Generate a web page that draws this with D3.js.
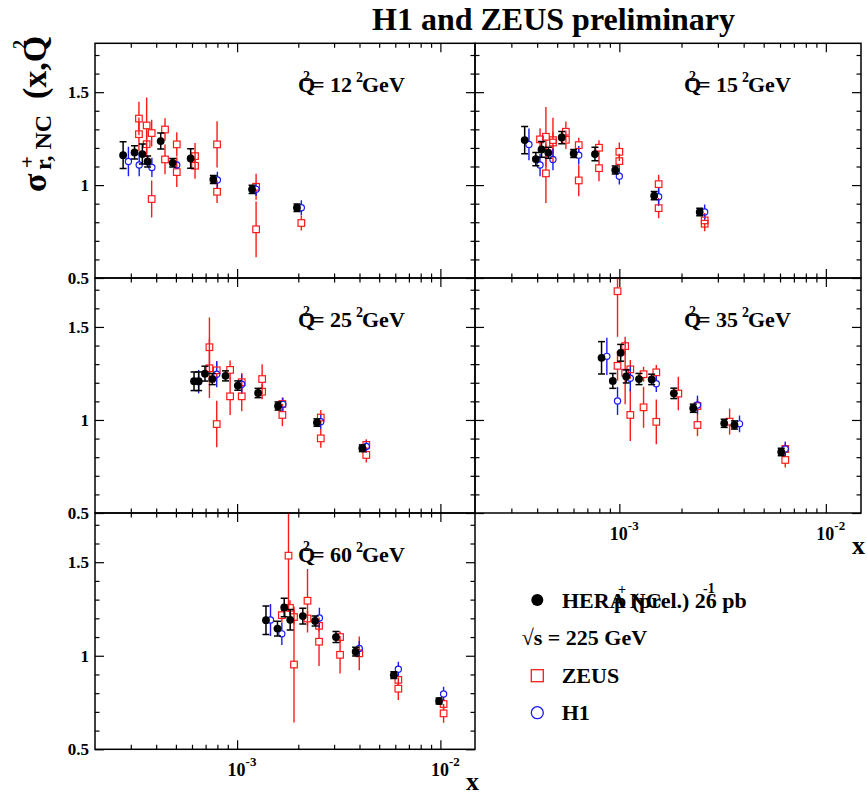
<!DOCTYPE html>
<html><head><meta charset="utf-8">
<script src="https://cdn.jsdelivr.net/npm/d3@7"></script>
<style>
body{margin:0;background:#fff;}
svg{display:block;}
text{font-family:"Liberation Serif","Times New Roman",serif;font-weight:bold;fill:#000;}
</style>
</head><body>
<svg id="c" width="867" height="797"></svg>
<script>
// ---------------- DATA ----------------
const q2Labels = ["12", "15", "25", "35", "60"];
const yMajorTicks = [0.5, 1, 1.5];
const yTickLabels = ["0.5", "1", "1.5"];
const xMajorTicks = [1e-3, 1e-2];
const xTickExponents = ["-3", "-2"];

// [x, sigma_r, error]
const hera12 = [[2.75e-4,1.161,0.072],[3.13e-4,1.176,0.036],[3.42e-4,1.167,0.054],[3.63e-4,1.127,0.029],[4.21e-4,1.237,0.043],[4.82e-4,1.120,0.023],[5.91e-4,1.143,0.052],[7.64e-4,1.030,0.022],[1.185e-3,0.977,0.022],[1.97e-3,0.878,0.020]];
const h1_12 = [[2.92e-4,1.127,0.079],[3.30e-4,1.108,0.061],[3.81e-4,1.095,0.052],[5.05e-4,1.108,0.020],[8.0e-4,1.027,0.045],[1.24e-3,0.977,0.036],[2.07e-3,0.878,0.040]];
const zeus12 = [[3.29e-4,1.358,0.09],[3.29e-4,1.274,0.09],[3.59e-4,1.321,0.15],[3.59e-4,1.220,0.07],[3.80e-4,1.280,0.072],[3.80e-4,0.925,0.10],[4.42e-4,1.299,0.06],[4.42e-4,1.138,0.08],[5.05e-4,1.219,0.065],[5.05e-4,1.070,0.08],[6.21e-4,1.156,0.07],[6.21e-4,1.104,0.07],[7.97e-4,1.219,0.125],[7.97e-4,0.964,0.06],[1.24e-3,0.991,0.07],[1.24e-3,0.762,0.15],[2.07e-3,0.796,0.04]];

const hera15 = [[3.48e-4,1.242,0.073],[3.94e-4,1.140,0.036],[4.20e-4,1.192,0.042],[4.53e-4,1.174,0.030],[5.26e-4,1.256,0.033],[6.01e-4,1.170,0.022],[7.62e-4,1.167,0.036],[9.55e-4,1.081,0.022],[1.475e-3,0.943,0.022],[2.45e-3,0.855,0.020]];
const h1_15 = [[3.65e-4,1.219,0.085],[4.13e-4,1.108,0.060],[4.77e-4,1.138,0.058],[6.36e-4,1.161,0.050],[1.0e-3,1.048,0.045],[1.55e-3,0.937,0.050],[2.59e-3,0.855,0.040]];
const zeus15 = [[4.13e-4,1.246,0.06],[4.41e-4,1.260,0.16],[4.41e-4,1.063,0.16],[4.77e-4,1.242,0.12],[4.77e-4,1.229,0.06],[5.51e-4,1.287,0.055],[5.51e-4,1.244,0.05],[6.36e-4,1.215,0.04],[6.36e-4,1.025,0.085],[7.97e-4,1.201,0.04],[7.97e-4,1.091,0.07],[1.0e-3,1.179,0.05],[1.0e-3,1.129,0.04],[1.55e-3,1.005,0.05],[1.55e-3,0.876,0.055],[2.59e-3,0.810,0.04],[2.59e-3,0.792,0.04]];

const hera25 = [[6.14e-4,1.208,0.050],[6.47e-4,1.208,0.050],[6.95e-4,1.249,0.040],[7.55e-4,1.220,0.030],[8.77e-4,1.237,0.027],[1.008e-3,1.185,0.025],[1.268e-3,1.145,0.025],[1.59e-3,1.075,0.022],[2.47e-3,0.986,0.020],[4.13e-3,0.848,0.018]];
const h1_25 = [[6.47e-4,1.206,0.063],[7.94e-4,1.246,0.070],[1.054e-3,1.192,0.052],[1.68e-3,1.084,0.036],[2.58e-3,0.991,0.040],[4.32e-3,0.857,0.033]];
const zeus25 = [[7.31e-4,1.391,0.16],[7.31e-4,1.278,0.16],[7.94e-4,1.267,0.05],[7.94e-4,0.978,0.125],[9.24e-4,1.269,0.05],[9.24e-4,1.127,0.10],[1.054e-3,1.203,0.05],[1.054e-3,1.127,0.08],[1.328e-3,1.220,0.08],[1.328e-3,1.152,0.04],[1.67e-3,1.086,0.035],[1.67e-3,1.027,0.06],[2.58e-3,1.013,0.04],[2.58e-3,0.901,0.05],[4.32e-3,0.866,0.03],[4.32e-3,0.812,0.04]];

const hera35 = [[8.2e-4,1.334,0.087],[9.3e-4,1.210,0.040],[1.015e-3,1.361,0.045],[1.08e-3,1.234,0.035],[1.245e-3,1.220,0.030],[1.434e-3,1.218,0.028],[1.836e-3,1.143,0.028],[2.28e-3,1.063,0.022],[3.22e-3,0.982,0.022],[3.61e-3,0.973,0.022],[6.08e-3,0.828,0.020]];
const h1_35 = [[8.7e-4,1.342,0.10],[9.8e-4,1.102,0.075],[1.13e-3,1.224,0.07],[1.51e-3,1.195,0.045],[2.39e-3,1.081,0.05],[3.82e-3,0.979,0.045],[6.36e-3,0.844,0.04]];
const zeus35 = [[9.8e-4,1.692,0.245],[9.8e-4,1.291,0.08],[1.067e-3,1.397,0.05],[1.067e-3,1.254,0.17],[1.13e-3,1.272,0.05],[1.13e-3,1.027,0.14],[1.31e-3,1.246,0.04],[1.31e-3,1.068,0.11],[1.51e-3,1.256,0.04],[1.51e-3,0.990,0.12],[1.93e-3,1.142,0.09],[2.39e-3,1.075,0.04],[2.39e-3,0.973,0.06],[3.42e-3,0.991,0.07],[6.36e-3,0.844,0.03],[6.36e-3,0.785,0.04]];

const hera60 = [[1.387e-3,1.190,0.076],[1.58e-3,1.145,0.040],[1.705e-3,1.258,0.050],[1.825e-3,1.192,0.055],[2.105e-3,1.212,0.042],[2.42e-3,1.186,0.027],[3.065e-3,1.100,0.029],[3.83e-3,1.022,0.023],[5.9e-3,0.896,0.018],[9.85e-3,0.758,0.016]];
const h1_60 = [[1.46e-3,1.191,0.085],[1.66e-3,1.117,0.06],[2.54e-3,1.202,0.055],[3.99e-3,1.039,0.04],[6.21e-3,0.928,0.04],[1.037e-2,0.796,0.038]];
const zeus60 = [[1.79e-3,1.535,0.30],[1.66e-3,1.217,0.04],[1.82e-3,1.256,0.04],[1.905e-3,1.207,0.04],[1.905e-3,0.953,0.31],[2.22e-3,1.294,0.17],[2.22e-3,1.199,0.04],[2.53e-3,1.160,0.03],[2.53e-3,1.075,0.13],[3.21e-3,1.100,0.03],[3.21e-3,1.005,0.10],[3.99e-3,1.013,0.09],[6.21e-3,0.871,0.03],[6.21e-3,0.824,0.06],[1.037e-2,0.742,0.03],[1.037e-2,0.692,0.05]];

const legendLabels = ["HERA NC", "p (prel.) 26 pb", "\u221As = 225 GeV", "ZEUS", "H1"];

// ---------------- LAYOUT ----------------
const svg = d3.select("#c");
const xDomain = [2e-4, 1.48e-2];
const yDomain = [0.5, 1.763];
const cols = [[95, 475], [475, 861]];
const rows = [[43.3, 278], [278, 513], [513, 749.3]];
const RED = "#ff1a1a", BLUE = "#1a1aff";

const panels = [
  {q2: q2Labels[0], c: 0, r: 0, hera: hera12, h1: h1_12, zeus: zeus12},
  {q2: q2Labels[1], c: 1, r: 0, hera: hera15, h1: h1_15, zeus: zeus15},
  {q2: q2Labels[2], c: 0, r: 1, hera: hera25, h1: h1_25, zeus: zeus25},
  {q2: q2Labels[3], c: 1, r: 1, hera: hera35, h1: h1_35, zeus: zeus35, xLabels: true},
  {q2: q2Labels[4], c: 0, r: 2, hera: hera60, h1: h1_60, zeus: zeus60, xLabels: true}
];

// title
svg.append("text").attr("x", 372).attr("y", 30).attr("font-size", 32).text("H1 and ZEUS preliminary");

// y-axis title (rotated)
const yl = svg.append("g").attr("transform", "translate(46,192) rotate(-90)");
yl.append("text").attr("x", 0).attr("y", 0).attr("font-size", 34).text("\u03C3");
yl.append("text").attr("x", 22).attr("y", 5).attr("font-size", 24).text("r, NC");
yl.append("text").attr("x", 93).attr("y", 0).attr("font-size", 34).text("(x,Q");
yl.append("text").attr("x", 143).attr("y", -20).attr("font-size", 18).text("2");
svg.append("text").attr("x", 27).attr("y", 169).attr("font-size", 20).attr("text-anchor", "middle").text("+");

const minorX = [];
[1e-4, 1e-3, 1e-2].forEach(d => { for (let k = 2; k <= 9; k++) { const v = k * d; if (v > xDomain[0] && v < xDomain[1]) minorX.push(v); } });
const minorY = [];
for (let k = 6; k <= 17; k++) { if (k !== 10 && k !== 15) minorY.push(k / 10); }

panels.forEach((p, i) => {
  const [x0, x1] = cols[p.c];
  const [y0, y1] = rows[p.r];
  const xs = d3.scaleLog().domain(xDomain).range([x0, x1]);
  const ys = d3.scaleLinear().domain(yDomain).range([y1, y0]);
  const g = svg.append("g");

  const clipId = "clip" + i;
  svg.append("clipPath").attr("id", clipId).append("rect")
    .attr("x", x0).attr("y", y0).attr("width", x1 - x0).attr("height", y1 - y0);
  const dg = g.append("g").attr("clip-path", `url(#${clipId})`);

  // ticks (inward) via d3 axes
  const tickAxis = (axis, tr, vals, size) => {
    const a = g.append("g").attr("transform", tr).call(axis.tickValues(vals).tickSize(size).tickFormat(""));
    a.select(".domain").remove();
    a.selectAll("line").attr("stroke", "#000").attr("stroke-width", 1.2);
  };
  tickAxis(d3.axisRight(ys), `translate(${x0},0)`, yMajorTicks, 9);
  tickAxis(d3.axisRight(ys), `translate(${x0},0)`, minorY, 4.5);
  tickAxis(d3.axisLeft(ys), `translate(${x1},0)`, yMajorTicks, 9);
  tickAxis(d3.axisLeft(ys), `translate(${x1},0)`, minorY, 4.5);
  tickAxis(d3.axisTop(xs), `translate(0,${y1})`, xMajorTicks, 9);
  tickAxis(d3.axisTop(xs), `translate(0,${y1})`, minorX, 4.5);
  tickAxis(d3.axisBottom(xs), `translate(0,${y0})`, xMajorTicks, 9);
  tickAxis(d3.axisBottom(xs), `translate(0,${y0})`, minorX, 4.5);

  // frame
  g.append("rect").attr("x", x0).attr("y", y0).attr("width", x1 - x0).attr("height", y1 - y0)
    .attr("fill", "none").attr("stroke", "#000").attr("stroke-width", 1.5);

  // y labels (left column only)
  if (p.c === 0) {
    const la = g.append("g").attr("transform", `translate(${x0},0)`)
      .call(d3.axisLeft(ys).tickValues(yMajorTicks).tickSize(0).tickPadding(6)
        .tickFormat((d, k) => yTickLabels[k]));
    la.select(".domain").remove();
    la.selectAll("text").attr("font-size", 17).attr("font-family", "Liberation Serif, serif")
      .attr("font-weight", "bold").attr("fill", "#000");
  }

  // x labels
  if (p.xLabels) {
    const xa = g.append("g").attr("transform", `translate(0,${y1})`)
      .call(d3.axisBottom(xs).tickValues(xMajorTicks).tickSize(0).tickFormat(""));
    xa.select(".domain").remove();
    xa.selectAll(".tick").each(function(d, k) {
      const t = d3.select(this).append("text").attr("x", -10).attr("y", 27).attr("dy", 0)
        .attr("text-anchor", "start").attr("font-size", 18).attr("font-family", "Liberation Serif, serif")
        .attr("font-weight", "bold").attr("fill", "#000");
      t.append("tspan").text("10");
      t.append("tspan").attr("dy", -10).attr("font-size", 13).text(xTickExponents[k]);
    });
    svg.append("text").attr("x", x1 - 9).attr("y", y1 + 41).attr("font-size", 26).text("x");
  }

  // ZEUS (red)
  const sq = 3.3;
  p.zeus.forEach(([x, y, e]) => {
    const cx = xs(x), cy = ys(y);
    dg.append("line").attr("x1", cx).attr("x2", cx).attr("y1", ys(y + e)).attr("y2", cy - sq)
      .attr("stroke", RED).attr("stroke-width", 1.4);
    dg.append("line").attr("x1", cx).attr("x2", cx).attr("y1", cy + sq).attr("y2", ys(y - e))
      .attr("stroke", RED).attr("stroke-width", 1.4);
  });
  // H1 (blue)
  const rc = 3.1;
  p.h1.forEach(([x, y, e]) => {
    const cx = xs(x), cy = ys(y);
    dg.append("line").attr("x1", cx).attr("x2", cx).attr("y1", ys(y + e)).attr("y2", cy - rc)
      .attr("stroke", BLUE).attr("stroke-width", 1.4);
    dg.append("line").attr("x1", cx).attr("x2", cx).attr("y1", cy + rc).attr("y2", ys(y - e))
      .attr("stroke", BLUE).attr("stroke-width", 1.4);
  });
  p.zeus.forEach(([x, y]) => {
    dg.append("rect").attr("x", xs(x) - sq).attr("y", ys(y) - sq).attr("width", 2 * sq).attr("height", 2 * sq)
      .attr("fill", "none").attr("stroke", RED).attr("stroke-width", 1.2);
  });
  p.h1.forEach(([x, y]) => {
    dg.append("circle").attr("cx", xs(x)).attr("cy", ys(y)).attr("r", rc)
      .attr("fill", "none").attr("stroke", BLUE).attr("stroke-width", 1.2);
  });
  // HERA combined (black, with caps)
  p.hera.forEach(([x, y, e]) => {
    const cx = xs(x), yt = ys(y + e), yb = ys(y - e);
    dg.append("line").attr("x1", cx).attr("x2", cx).attr("y1", yt).attr("y2", yb).attr("stroke", "#000").attr("stroke-width", 1.5);
    [yt, yb].forEach(yy => dg.append("line").attr("x1", cx - 3.5).attr("x2", cx + 3.5).attr("y1", yy).attr("y2", yy)
      .attr("stroke", "#000").attr("stroke-width", 1.5));
    dg.append("circle").attr("cx", cx).attr("cy", ys(y)).attr("r", 3.9).attr("fill", "#000");
  });

  // Q2 label
  const qx = x1 - 177, qb = y0 + 48.7;
  g.append("text").attr("x", qx).attr("y", qb).attr("font-size", 22).text("Q");
  g.append("text").attr("x", qx + 5).attr("y", qb - 11).attr("font-size", 14).text("2");
  g.append("text").attr("x", qx + 14).attr("y", qb).attr("font-size", 22).text("= " + p.q2);
  g.append("text").attr("x", qx + 58).attr("y", qb - 10).attr("font-size", 14).text("2");
  g.append("text").attr("x", qx + 64).attr("y", qb).attr("font-size", 22).text("GeV");
});

// ---------------- LEGEND ----------------
const lg = svg.append("g");
lg.append("circle").attr("cx", 537.3).attr("cy", 600).attr("r", 6).attr("fill", "#000");
lg.append("text").attr("x", 562).attr("y", 608).attr("font-size", 22).text(legendLabels[0]);
lg.append("text").attr("x", 614).attr("y", 608).attr("font-size", 22).text(legendLabels[1]);
lg.append("text").attr("x", 618).attr("y", 594).attr("font-size", 14).text("+");
lg.append("text").attr("x", 703).attr("y", 593).attr("font-size", 14).text("-1");
lg.append("text").attr("x", 521.7).attr("y", 645).attr("font-size", 22).text(legendLabels[2]);
lg.append("rect").attr("x", 531.3).attr("y", 669.7).attr("width", 12).attr("height", 12)
  .attr("fill", "none").attr("stroke", RED).attr("stroke-width", 1.3);
lg.append("text").attr("x", 561.7).attr("y", 683).attr("font-size", 22).text(legendLabels[3]);
lg.append("circle").attr("cx", 537.3).attr("cy", 712.7).attr("r", 6)
  .attr("fill", "none").attr("stroke", BLUE).attr("stroke-width", 1.3);
lg.append("text").attr("x", 561.7).attr("y", 720).attr("font-size", 22).text(legendLabels[4]);
</script>
</body></html>
